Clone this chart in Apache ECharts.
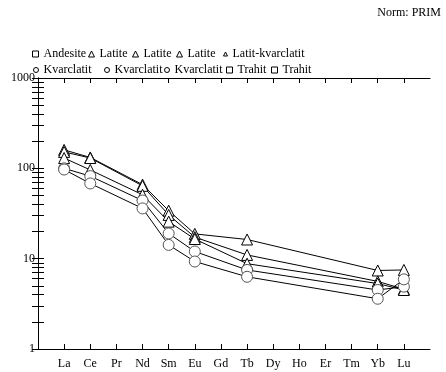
<!DOCTYPE html>
<html>
<head>
<meta charset="utf-8">
<script src="https://cdn.jsdelivr.net/npm/echarts@6/dist/echarts.min.js"></script>
<style>
html,body{margin:0;padding:0;background:#fff;}
#chart{width:446px;height:372px;}
</style>
</head>
<body>
<div id="chart"></div>
<script>
const elements = ['La','Ce','Pr','Nd','Sm','Eu','Gd','Tb','Dy','Ho','Er','Tm','Yb','Lu'];
const yMajorTicks = [1, 10, 100, 1000];
const yAllTicks = [1,2,3,4,5,6,7,8,9,10,20,30,40,50,60,70,80,90,100,200,300,400,500,600,700,800,900,1000];

const latite1 = [160, 132, null, 66, 34, 18.8, null, 16.3, null, null, null, null, 7.4, 7.5];
const latite2 = [152, 130, null, 64, 30.5, 17.3, null, 11, null, null, null, null, 5.6, 4.6];
const latite3 = [130, 96, null, 51, 25.7, 16.5, null, 8.8, null, null, null, null, 5.3, 4.5];
const kvarclatit1 = [100, 82, null, 44, 19, 12, null, 7.5, null, null, null, null, 4.5, 4.9];
const kvarclatit2 = [97, 68, null, 36, 14.2, 9.3, null, 6.3, null, null, null, null, 3.6, 5.9];
const andesite = [];
const latitKvarclatit = [];
const kvarclatit3 = [];
const trahit1 = [];
const trahit2 = [];

const FONT = "Liberation Serif";

function pairs(arr) {
  const out = [];
  arr.forEach((v, i) => { if (v != null) out.push([i + 1, v]); });
  return out;
}

const seriesDefs = [
  {name: 'Andesite', data: andesite, symbol: 'rect', icon: 'rect', size: 6, left: 43, row: 0},
  {name: 'Latite', data: latite1, symbol: 'triangle', icon: 'triangle', size: 6, left: 99, row: 0},
  {name: 'Latite ', data: latite2, symbol: 'triangle', icon: 'triangle', size: 6, left: 143, row: 0},
  {name: 'Latite  ', data: latite3, symbol: 'triangle', icon: 'triangle', size: 6, left: 187, row: 0},
  {name: 'Latit-kvarclatit', data: latitKvarclatit, symbol: 'triangle', icon: 'triangle', size: 4, left: 232, row: 0},
  {name: 'Kvarclatit', data: kvarclatit1, symbol: 'circle', icon: 'circle', size: 5, left: 43, row: 1},
  {name: 'Kvarclatit ', data: kvarclatit2, symbol: 'circle', icon: 'circle', size: 5, left: 114, row: 1},
  {name: 'Kvarclatit  ', data: kvarclatit3, symbol: 'circle', icon: 'circle', size: 5, left: 174, row: 1},
  {name: 'Trahit', data: trahit1, symbol: 'rect', icon: 'rect', size: 6, left: 237, row: 1},
  {name: 'Trahit ', data: trahit2, symbol: 'rect', icon: 'rect', size: 6, left: 282, row: 1}
];

const legends = seriesDefs.map(d => ({
  data: [{name: d.name, icon: d.icon}],
  left: d.left - 5 - d.size,
  top: d.row === 0 ? 47 : 63,
  padding: 0,
  itemWidth: d.size,
  itemHeight: d.size,
  selectedMode: false,
  itemStyle: {color: '#fff', borderColor: '#000', borderWidth: 1},
  textStyle: {fontFamily: FONT, fontSize: 12, color: '#000', lineHeight: 14}
}));

const series = seriesDefs.map(d => ({
  name: d.name,
  type: 'line',
  data: pairs(d.data),
  symbol: d.symbol,
  symbolSize: 11,
  lineStyle: {color: '#000', width: 1},
  itemStyle: {color: '#fff', borderColor: d.symbol === 'circle' ? '#555' : '#000', borderWidth: 1},
  emphasis: {disabled: true},
  animation: false
}));

const xTickVals = elements.map((e, i) => i + 1);
const baseX = {
  type: 'value', min: 0, max: 15,
  axisLine: {show: true, lineStyle: {color: '#000', width: 1}},
  splitLine: {show: false}
};
const baseY = {
  type: 'log', logBase: 10, min: 1, max: 1000,
  axisLine: {show: true, lineStyle: {color: '#000', width: 1}},
  splitLine: {show: false}
};

const chart = echarts.init(document.getElementById('chart'), null, {renderer: 'canvas'});
chart.setOption({
  animation: false,
  backgroundColor: '#fff',
  textStyle: {fontFamily: FONT},
  title: {
    text: 'Norm: PRIM', right: 5, top: 7, padding: 0,
    textStyle: {fontFamily: FONT, fontSize: 12, fontWeight: 'normal', color: '#000'}
  },
  legend: legends,
  grid: {left: 38, right: 16, top: 78, bottom: 23, containLabel: false},
  xAxis: [
    Object.assign({}, baseX, {
      position: 'bottom',
      axisTick: {show: true, inside: true, length: 5, customValues: xTickVals, lineStyle: {color: '#000'}},
      axisLabel: {show: true, customValues: xTickVals, margin: 9, formatter: v => elements[v - 1] || '',
        fontFamily: FONT, fontSize: 12, color: '#000'}
    }),
    Object.assign({}, baseX, {
      position: 'top',
      axisTick: {show: true, inside: true, length: 5, customValues: xTickVals, lineStyle: {color: '#000'}},
      axisLabel: {show: false}
    })
  ],
  yAxis: [
    Object.assign({}, baseY, {
      position: 'left',
      axisTick: {show: true, inside: false, length: -6, customValues: yAllTicks, lineStyle: {color: '#000'}},
      axisLabel: {show: true, customValues: yMajorTicks, margin: 3, formatter: v => String(Math.round(v)),
        fontFamily: FONT, fontSize: 12, color: '#000'}
    }),
    Object.assign({}, baseY, {
      position: 'right',
      axisTick: {show: true, inside: true, length: 6, customValues: yAllTicks, lineStyle: {color: '#000'}},
      axisLabel: {show: false}
    })
  ],
  series: series
});
</script>
</body>
</html>
